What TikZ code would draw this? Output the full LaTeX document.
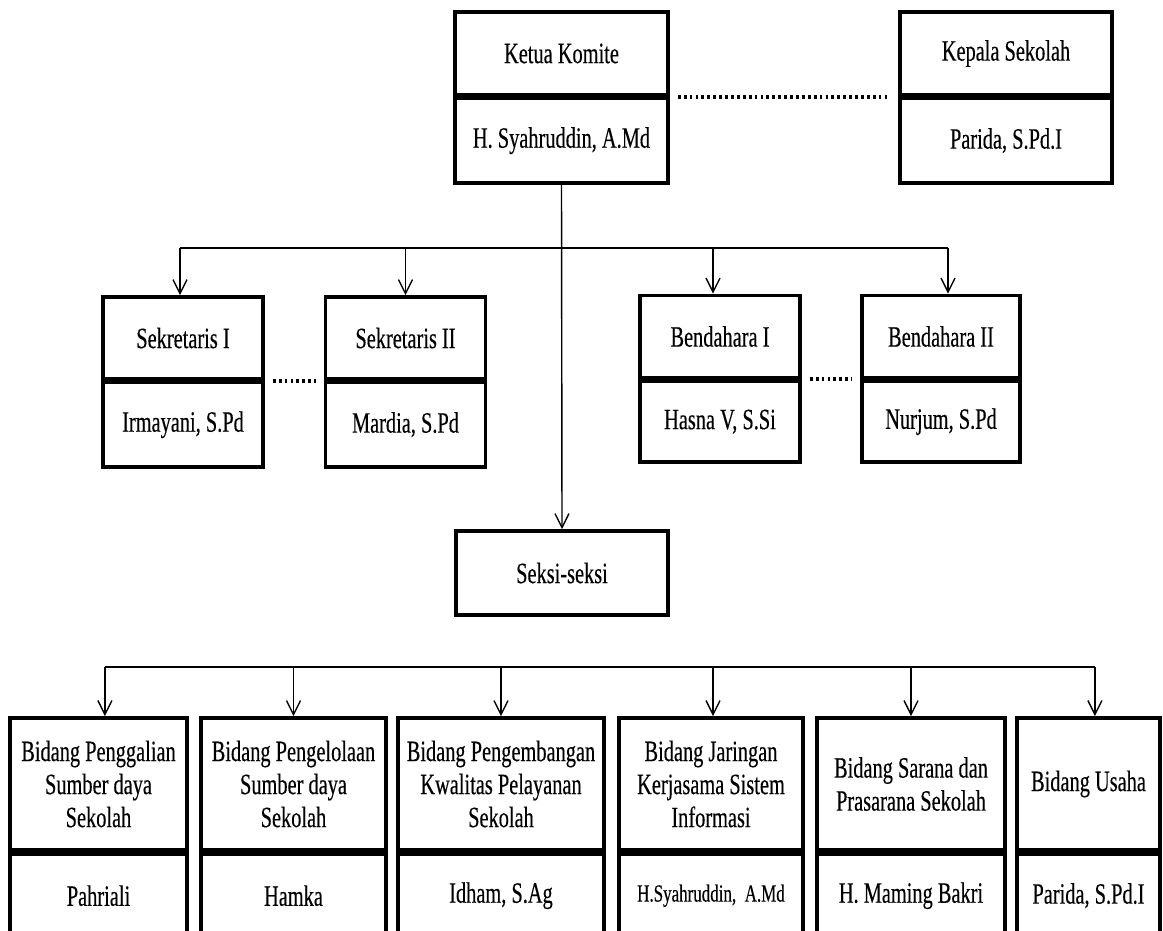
\documentclass[tikz,border=0pt]{standalone}
\usepackage{fontspec}
\setmainfont{Liberation Serif}[FakeStretch=0.69, FakeBold=0.3]
\usetikzlibrary{arrows.meta,positioning}
\tikzset{
  box/.style={draw, line width=2.6pt, align=center, inner sep=2pt, font=\fontsize{21}{23.5}\selectfont},
  jabatan/.style={box, minimum height=2.075cm},
  nama/.style={box, minimum height=2.1cm},
  bidang/.style={box, minimum height=3.3cm},
  bidangnm/.style={box, minimum height=2.1cm},
  garis/.style={line width=1pt},
  panah/.style={garis, -{Straight Barb[length=10pt,width=10pt]}},
  titik/.style={line width=3pt, dash pattern=on 2pt off 2.2pt, shorten <=0.2cm, shorten >=0.2cm}
}
\begin{document}
\begin{tikzpicture}[x=0.025cm, y=-0.025cm]
  \useasboundingbox (0,0) rectangle (1163,931);
  \clip (0,0) rectangle (1163,931);

  % pimpinan
  \node[jabatan, minimum width=5.325cm] (ketua) at (561.5,53.5) {Ketua Komite};
  \node[nama, minimum width=5.325cm, below=0pt of ketua] (ketuaNm) {H. Syahruddin, A.Md};
  \node[jabatan, minimum width=5.3cm] (kepala) at (1006,53.5) {Kepala Sekolah};
  \node[nama, minimum width=5.3cm, below=0pt of kepala] (kepalaNm) {Parida, S.Pd.I};
  \draw[titik] (ketua.south east) -- (kepala.south west);

  % sekretaris dan bendahara
  \node[jabatan, minimum width=4cm, minimum height=2.05cm] (sek1) at (183,338) {Sekretaris I};
  \node[nama, minimum width=4cm, below=0pt of sek1] (sek1Nm) {Irmayani, S.Pd};
  \node[jabatan, minimum width=4cm, minimum height=2.05cm] (sek2) at (405.5,338) {Sekretaris II};
  \node[nama, minimum width=4cm, below=0pt of sek2] (sek2Nm) {Mardia, S.Pd};
  \node[jabatan, minimum width=4cm, minimum height=2.05cm] (bend1) at (720,336.5) {Bendahara I};
  \node[nama, minimum width=4cm, minimum height=2.025cm, below=0pt of bend1] (bend1Nm) {Hasna V, S.Si};
  \node[jabatan, minimum width=3.95cm, minimum height=2.05cm] (bend2) at (941,336.5) {Bendahara II};
  \node[nama, minimum width=3.95cm, minimum height=2.025cm, below=0pt of bend2] (bend2Nm) {Nurjum, S.Pd};
  \draw[titik] (sek1.south east) -- (sek2.south west);
  \draw[titik] (bend1.south east) -- (bend2.south west);

  \node[box, minimum width=5.3cm, minimum height=2.1cm] (seksi) at (562,573) {Seksi-seksi};

  \coordinate (bus1) at (562,248);
  \draw[panah] (ketuaNm.south) -- (seksi.north);
  \draw[garis] ([xshift=-0.075cm]sek1.north |- bus1) -- ([xshift=0.175cm]bend2.north |- bus1);
  \foreach \n/\dx in {sek1/-0.075,sek2/0,bend1/-0.175,bend2/0.175}
    \draw[panah] ([xshift=\dx cm]\n.north |- bus1) -- ([xshift=\dx cm]\n.north);

  % bidang-bidang
  \node[bidang, minimum width=4.425cm] (bid1) at (98.5,784) {Bidang Penggalian\\Sumber daya\\Sekolah};
  \node[bidangnm, minimum width=4.425cm, below=0pt of bid1] (bid1Nm) {Pahriali};
  \node[bidang, minimum width=4.625cm] (bid2) at (293.5,784) {Bidang Pengelolaan\\Sumber daya\\Sekolah};
  \node[bidangnm, minimum width=4.625cm, below=0pt of bid2] (bid2Nm) {Hamka};
  \node[bidang, minimum width=5.15cm] (bid3) at (501,784) {Bidang Pengembangan\\Kwalitas Pelayanan\\Sekolah};
  \node[bidangnm, minimum width=5.15cm, below=0pt of bid3] (bid3Nm) {Idham, S.Ag};
  \node[bidang, minimum width=4.6cm] (bid4) at (711,784) {Bidang Jaringan\\Kerjasama Sistem\\Informasi};
  \node[bidangnm, minimum width=4.6cm, below=0pt of bid4, font=\fontsize{17.5}{20}\selectfont] (bid4Nm) {H.Syahruddin,\ \ A.Md};
  \node[bidang, minimum width=4.7cm] (bid5) at (911,784) {Bidang Sarana dan\\Prasarana Sekolah};
  \node[bidangnm, minimum width=4.7cm, below=0pt of bid5] (bid5Nm) {H. Maming Bakri};
  \node[bidang, minimum width=3.575cm] (bid6) at (1088.5,784) {Bidang Usaha};
  \node[bidangnm, minimum width=3.575cm, below=0pt of bid6] (bid6Nm) {Parida, S.Pd.I};

  \coordinate (bus2) at (562,667);
  \draw[garis] ([xshift=0.16cm]bid1.north |- bus2) -- ([xshift=0.16cm]bid6.north |- bus2);
  \foreach \n/\dx in {bid1/0.16,bid2/0,bid3/0,bid4/0.05,bid5/0,bid6/0.16}
    \draw[panah] ([xshift=\dx cm]\n.north |- bus2) -- ([xshift=\dx cm]\n.north);
\end{tikzpicture}
\end{document}
